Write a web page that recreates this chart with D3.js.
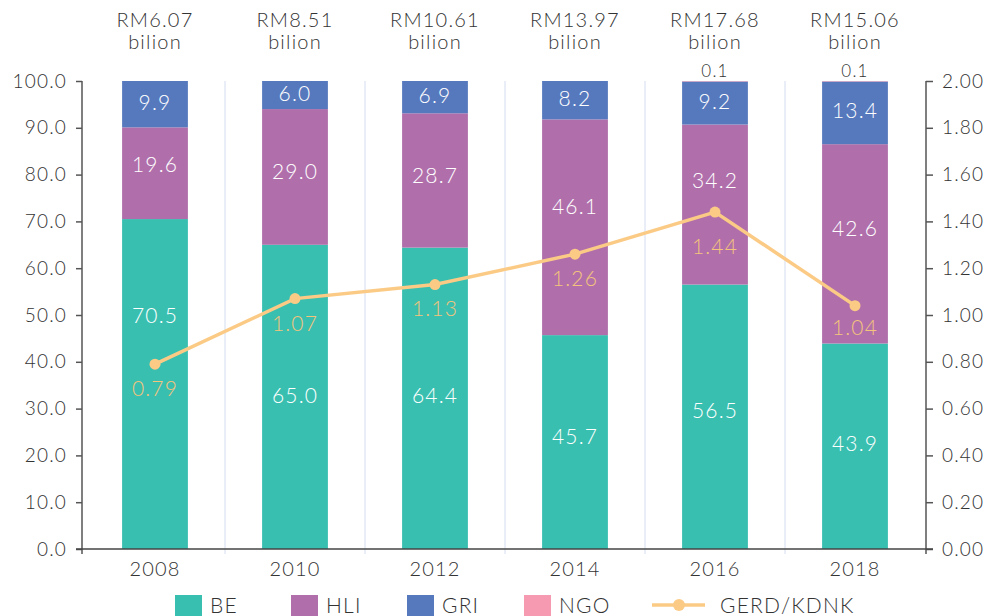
<!DOCTYPE html>
<html>
<head>
<meta charset="utf-8">
<script src="https://cdn.jsdelivr.net/npm/d3@7"></script>
<style>
  body { margin: 0; background: #fff; }
  svg text { font-family: "Lato", "Noto Sans", sans-serif; font-weight: 300; fill: #333; letter-spacing: 1.2px; }
</style>
</head>
<body>
<div id="chart"></div>
<script>
// chart data
const years = ["2008", "2010", "2012", "2014", "2016", "2018"];
const totals = ["RM6.07", "RM8.51", "RM10.61", "RM13.97", "RM17.68", "RM15.06"];
const seriesNames = ["BE", "HLI", "GRI", "NGO"];
const beVals  = [70.5, 65.0, 64.4, 45.7, 56.5, 43.9];
const hliVals = [19.6, 29.0, 28.7, 46.1, 34.2, 42.6];
const griVals = [9.9, 6.0, 6.9, 8.2, 9.2, 13.4];
const ngoVals = [0, 0, 0, 0, 0.1, 0.1];
const gerd = [0.79, 1.07, 1.13, 1.26, 1.44, 1.04];
const leftTicks = [0, 10, 20, 30, 40, 50, 60, 70, 80, 90, 100];
const rightTicks = [0, 0.2, 0.4, 0.6, 0.8, 1.0, 1.2, 1.4, 1.6, 1.8, 2.0];

// where the labels sit (left axis units), as placed in the original
const beLabelAt = [49.8, 32.8, 32.9, 24.1, 29.7, 22.6];
const hliLabelAt = [82.1, 80.6, 79.9, 73.3, 78.8, 68.4];
const gerdLabelDy = [24, 25, 24, 24, 34, 22];

const colors = {BE: "#38bfb0", HLI: "#b06fab", GRI: "#5679be", NGO: "#f59ab0"};
const lineColor = "#fbcb86";
const lineLabelColor = "#f4c47c";

const W = 992, H = 616;
const plotTop = 81, plotBottom = 549;

const svg = d3.select("#chart").append("svg")
    .attr("width", W).attr("height", H);

const x = d3.scaleBand().domain(years).range([85, 925])
    .paddingInner(0.53).paddingOuter(0.265);
const y = d3.scaleLinear().domain([0, 100]).range([plotBottom, plotTop]);
const yR = d3.scaleLinear().domain([0, 2]).range([plotBottom, plotTop]);

// vertical separators between groups
svg.append("g").selectAll("line")
    .data(years.slice(1))
    .join("line")
    .attr("x1", d => x(d) - x.step() * x.paddingInner() / 2)
    .attr("x2", d => x(d) - x.step() * x.paddingInner() / 2)
    .attr("y1", plotTop).attr("y2", plotBottom + 5)
    .attr("stroke", "#d3dcef").attr("stroke-width", 1);

// stacked bars
const rows = years.map((yr, i) => ({year: yr, BE: beVals[i], HLI: hliVals[i], GRI: griVals[i], NGO: ngoVals[i]}));
const stacked = d3.stack().keys(seriesNames)(rows);

svg.append("g").selectAll("g")
    .data(stacked)
    .join("g")
    .attr("fill", d => colors[d.key])
    .selectAll("rect")
    .data(d => d)
    .join("rect")
    .attr("x", d => x(d.data.year))
    .attr("width", x.bandwidth())
    .attr("y", d => y(d[1]))
    .attr("height", d => y(d[0]) - y(d[1]));

// bar labels
const cx = d => x(d) + x.bandwidth() / 2;
const labels = svg.append("g").attr("text-anchor", "middle").style("font-size", "21px");
years.forEach((yr, i) => {
    labels.append("text").attr("x", cx(yr)).attr("y", y(beLabelAt[i])).attr("dy", "0.36em")
        .style("fill", "#fff").text(beVals[i].toFixed(1));
    labels.append("text").attr("x", cx(yr)).attr("y", y(hliLabelAt[i])).attr("dy", "0.36em")
        .style("fill", "#fff").text(hliVals[i].toFixed(1));
    const g0 = beVals[i] + hliVals[i];
    labels.append("text").attr("x", cx(yr)).attr("y", (y(g0) + y(g0 + griVals[i])) / 2 - 2).attr("dy", "0.36em")
        .style("fill", "#fff").text(griVals[i].toFixed(1));
    if (ngoVals[i] > 0) {
        labels.append("text").attr("x", cx(yr)).attr("y", plotTop - 10).attr("dy", "0.36em")
            .style("font-size", "17px").text(ngoVals[i].toFixed(1));
    }
    // totals on top
    labels.append("text").attr("x", cx(yr)).attr("y", 20).attr("dy", "0.36em").style("font-size", "20px").text(totals[i]);
    labels.append("text").attr("x", cx(yr)).attr("y", 42).attr("dy", "0.36em").style("font-size", "20px").text("bilion");
});

// axes
const axisFont = g => g.selectAll("text").style("font-size", "19px").style("fill", "#333");
const leftAxis = svg.append("g").attr("transform", "translate(82,0)")
    .call(d3.axisLeft(y).tickValues(leftTicks).tickFormat(d3.format(".1f")).tickSize(6).tickSizeOuter(0).tickPadding(9))
    .call(axisFont);
const rightAxis = svg.append("g").attr("transform", "translate(926,0)")
    .call(d3.axisRight(yR).tickValues(rightTicks).tickFormat(d3.format(".2f")).tickSize(7).tickSizeOuter(0).tickPadding(9))
    .call(axisFont);
[leftAxis, rightAxis].forEach(g => {
    g.select(".domain").attr("d", `M0,${plotTop}V${plotBottom + 5}`).attr("stroke", "#555").attr("stroke-width", 1.5);
    g.selectAll(".tick line").attr("stroke", "#555").attr("stroke-width", 1.5);
});

// baseline
svg.append("line").attr("x1", 76).attr("x2", 933).attr("y1", plotBottom).attr("y2", plotBottom)
    .attr("stroke", "#444").attr("stroke-width", 1.5);

svg.append("g").attr("text-anchor", "middle").selectAll("text")
    .data(years).join("text")
    .attr("x", cx).attr("y", 569).attr("dy", "0.36em")
    .style("font-size", "20px").text(d => d);

// GERD/KDNK line
const line = d3.line().x((d, i) => cx(years[i])).y(d => yR(d));
svg.append("path").datum(gerd)
    .attr("fill", "none").attr("stroke", lineColor).attr("stroke-width", 3.5)
    .attr("d", line);
svg.append("g").selectAll("circle").data(gerd).join("circle")
    .attr("cx", (d, i) => cx(years[i])).attr("cy", d => yR(d)).attr("r", 5.5)
    .attr("fill", lineColor);
svg.append("g").attr("text-anchor", "middle").selectAll("text").data(gerd).join("text")
    .attr("x", (d, i) => cx(years[i])).attr("y", (d, i) => yR(d) + gerdLabelDy[i]).attr("dy", "0.36em")
    .style("font-size", "21px").style("fill", lineLabelColor)
    .text(d => d.toFixed(2));

// legend
const legend = svg.append("g").style("font-size", "21px");
const legendX = {BE: 175, HLI: 291, GRI: 407, NGO: 524};
seriesNames.forEach(k => {
    legend.append("rect").attr("x", legendX[k]).attr("y", 595).attr("width", 27).attr("height", 21)
        .attr("fill", colors[k]);
    legend.append("text").attr("x", legendX[k] + 35).attr("y", 605).attr("dy", "0.36em").text(k);
});
legend.append("line").attr("x1", 652).attr("x2", 705).attr("y1", 605).attr("y2", 605)
    .attr("stroke", lineColor).attr("stroke-width", 3.5);
legend.append("circle").attr("cx", 679).attr("cy", 605).attr("r", 6).attr("fill", lineColor);
legend.append("text").attr("x", 720).attr("y", 605).attr("dy", "0.36em").text("GERD/KDNK");
</script>
</body>
</html>
